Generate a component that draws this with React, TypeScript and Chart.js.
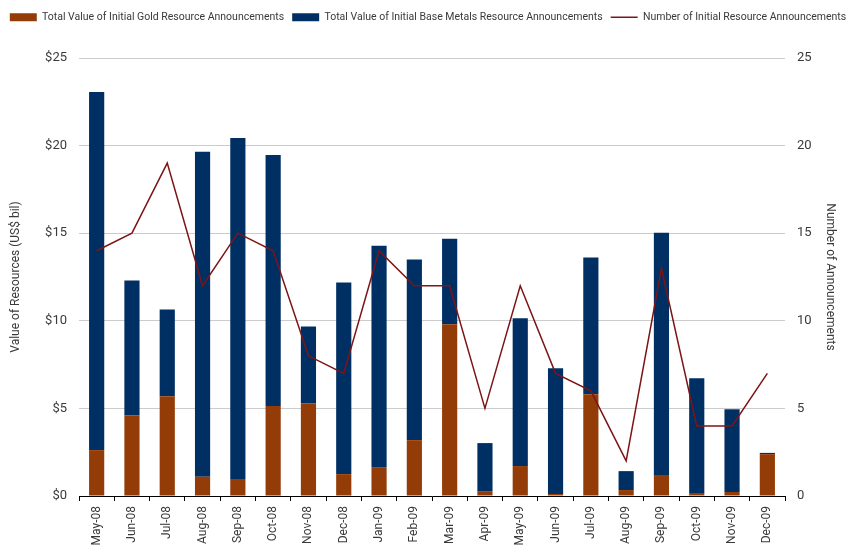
import React, { useEffect, useRef } from "react";
import { Chart, registerables } from "chart.js";

Chart.register(...registerables);

const categories = [
  "May-08", "Jun-08", "Jul-08", "Aug-08", "Sep-08", "Oct-08", "Nov-08", "Dec-08",
  "Jan-09", "Feb-09", "Mar-09", "Apr-09", "May-09", "Jun-09", "Jul-09", "Aug-09",
  "Sep-09", "Oct-09", "Nov-09", "Dec-09",
];

// US$ bil
const goldValues = [
  2.62, 4.61, 5.7, 1.1, 0.97, 5.13, 5.3, 1.25, 1.65, 3.19,
  9.8, 0.28, 1.71, 0.12, 5.81, 0.34, 1.2, 0.17, 0.23, 2.39,
];
const baseMetalValues = [
  20.44, 7.69, 4.95, 18.55, 19.47, 14.34, 4.38, 10.94, 12.64, 10.31,
  4.89, 2.74, 8.43, 7.17, 7.8, 1.08, 13.83, 6.55, 4.72, 0.07,
];
const announcementCounts = [
  14, 15, 19, 12, 15, 14, 8, 7, 14, 12,
  12, 5, 12, 7, 6, 2, 13, 4, 4, 7,
];

const leftTickValues = [0, 5, 10, 15, 20, 25];
const rightTickValues = [0, 5, 10, 15, 20, 25];

const seriesLabels = [
  "Total Value of Initial Gold Resource Announcements",
  "Total Value of Initial Base Metals Resource Announcements",
  "Number of Initial Resource Announcements",
];
const leftAxisTitle = "Value of Resources (US$ bil)";
const rightAxisTitle = "Number of Announcements";

const GOLD = "#933c07";
const BLUE = "#003063";
const LINE = "#7d1416";
const TEXT = "#3a3a3a";

const legendGap = {
  id: "legendGap",
  beforeInit(chart: any) {
    const origFit = chart.legend.fit;
    chart.legend.fit = function fit() {
      origFit.bind(chart.legend)();
      this.height += 25.5;
    };
  },
};

export default function App() {
  const canvasRef = useRef<HTMLCanvasElement | null>(null);

  useEffect(() => {
    if (!canvasRef.current) return;
    Chart.defaults.font.family = "Roboto";
    const chart = new Chart(canvasRef.current, {
      type: "bar",
      plugins: [legendGap],
      data: {
        labels: categories,
        datasets: [
          {
            type: "bar",
            label: seriesLabels[0],
            data: goldValues,
            backgroundColor: GOLD,
            yAxisID: "y",
            order: 1,
            categoryPercentage: 1,
            barPercentage: 0.43,
          },
          {
            type: "bar",
            label: seriesLabels[1],
            data: baseMetalValues,
            backgroundColor: BLUE,
            yAxisID: "y",
            order: 1,
            categoryPercentage: 1,
            barPercentage: 0.43,
          },
          {
            type: "line",
            label: seriesLabels[2],
            data: announcementCounts,
            borderColor: LINE,
            backgroundColor: LINE,
            borderWidth: 1.5,
            pointRadius: 0,
            tension: 0,
            yAxisID: "y1",
            order: 0,
          } as any,
        ],
      },
      options: {
        animation: false,
        responsive: false,
        maintainAspectRatio: false,
        layout: { padding: { top: 4, left: 0, right: 0, bottom: 0 } },
        plugins: {
          tooltip: { enabled: false },
          legend: {
            position: "top",
            align: "center",
            labels: {
              usePointStyle: true,
              pointStyleWidth: 27,
              boxHeight: 8,
              padding: 8,
              color: TEXT,
              font: { size: 10.5 },
              sort: (a: any, b: any) => a.datasetIndex - b.datasetIndex,
              generateLabels: (c: any) => {
                const items = (Chart.defaults.plugins.legend.labels as any).generateLabels(c);
                return items.map((it: any) => {
                  const ds = c.data.datasets[it.datasetIndex];
                  if (ds.type === "line") {
                    return { ...it, pointStyle: "line", strokeStyle: LINE, lineWidth: 1.5 };
                  }
                  return { ...it, pointStyle: "rect", lineWidth: 0, strokeStyle: "rgba(0,0,0,0)" };
                });
              },
            },
          },
        },
        scales: {
          x: {
            stacked: true,
            offset: true,
            grid: {
              display: true,
              drawOnChartArea: false,
              drawTicks: true,
              tickLength: 5,
              color: "#000",
              offset: true,
            },
            border: { display: true, color: "#000", width: 1 },
            ticks: {
              autoSkip: false,
              maxRotation: 90,
              minRotation: 90,
              padding: 5,
              color: TEXT,
              font: { size: 12 },
            },
            afterFit: (s: any) => {
              s.height = 56;
            },
          },
          y: {
            stacked: true,
            position: "left",
            min: 0,
            max: 25,
            afterBuildTicks: (s: any) => {
              s.ticks = leftTickValues.map((v) => ({ value: v }));
            },
            grid: { color: "#cccccc", drawTicks: false, lineWidth: 1 },
            border: { display: false },
            ticks: {
              padding: 12,
              color: TEXT,
              font: { size: 13 },
              callback: (v: any) => "$" + v,
            },
            title: {
              display: true,
              text: leftAxisTitle,
              color: TEXT,
              font: { size: 12 },
              padding: { top: 9, bottom: 0 },
            },
            afterFit: (s: any) => {
              s.width = 79;
            },
          },
          y1: {
            position: "right",
            min: 0,
            max: 25,
            afterBuildTicks: (s: any) => {
              s.ticks = rightTickValues.map((v) => ({ value: v }));
            },
            grid: { display: false, drawTicks: false },
            border: { display: false },
            ticks: {
              padding: 12,
              color: TEXT,
              font: { size: 13 },
            },
            title: {
              display: true,
              text: rightAxisTitle,
              color: TEXT,
              font: { size: 12 },
              padding: { top: 19, bottom: 0 },
            },
            afterFit: (s: any) => {
              s.width = 71;
            },
          },
        },
      },
    });
    return () => chart.destroy();
  }, []);

  return (
    <div
      style={{
        position: "fixed",
        top: 0,
        left: 0,
        width: 856,
        height: 548,
        overflow: "hidden",
        background: "#fff",
      }}
    >
      <canvas ref={canvasRef} width={856} height={552} style={{ width: 856, height: 552, display: "block" }} />
    </div>
  );
}
